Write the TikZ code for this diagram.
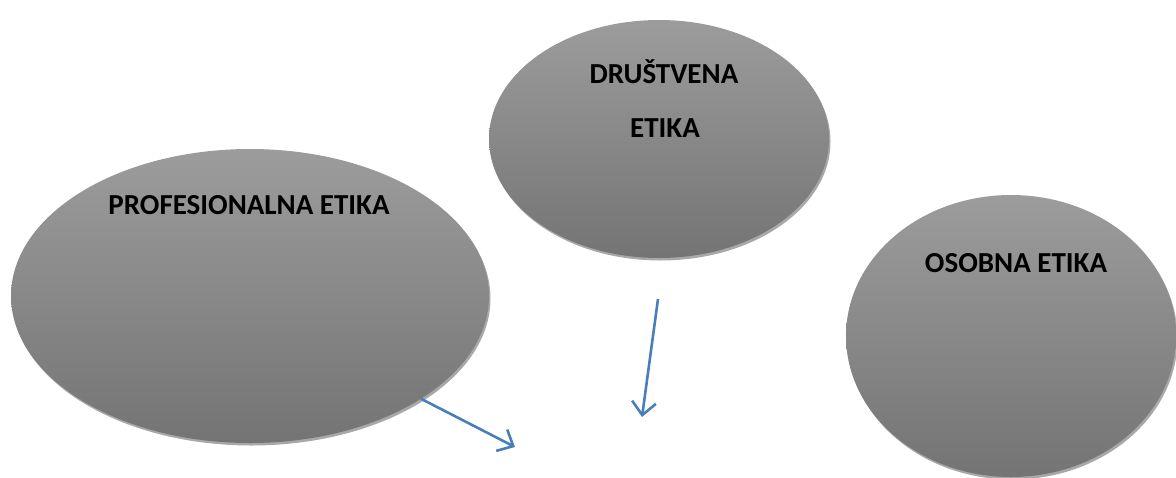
\documentclass[tikz,border=0pt]{standalone}
\usepackage{fontspec}
\setmainfont{Carlito}
\usetikzlibrary{shapes.geometric,arrows.meta,shadows}
\definecolor{topgray}{HTML}{9C9C9C}
\definecolor{botgray}{HTML}{747474}
\definecolor{rimgray}{HTML}{A8A8A8}
\definecolor{arrowblue}{HTML}{4A7EBB}
\tikzset{
  bubble/.style={ellipse, inner sep=0pt, top color=topgray, bottom color=botgray, draw=none,
    drop shadow={shadow xshift=1.5pt, shadow yshift=-2.5pt, fill=rimgray, opacity=1}},
  lbl/.style={font=\fontsize{29}{34}\selectfont\bfseries, text=black, inner sep=0pt, anchor=base},
  conn/.style={draw=arrowblue, line width=2.6pt, -{Straight Barb[length=13pt,width=24pt,line width=2.6pt]}}
}
\begin{document}
\begin{tikzpicture}[x=1pt,y=-1pt]
\useasboundingbox (0,0) rectangle (1176,477);
\node[bubble, minimum width=478pt, minimum height=294pt] (prof) at (250,296) {};
\node[bubble, minimum width=340pt, minimum height=238pt] (drus) at (659,139) {};
\node[bubble, minimum width=330pt, minimum height=282pt] (osob) at (1011,336) {};
\node[lbl] (tprof) at (249,214) {PROFESIONALNA ETIKA};
\node[lbl] (tdrus1) at (664,83) {DRUŠTVENA};
\node[lbl] (tdrus2) at (665,137) {ETIKA};
\node[lbl] (tosob) at (1016,272) {OSOBNA ETIKA};
\coordinate (e1) at (515,447);
\coordinate (s2) at (658,299);
\coordinate (e2) at (642,417);
\draw[conn] (prof.-31) -- (e1);
\draw[conn] (s2) -- (e2);
\end{tikzpicture}
\end{document}
